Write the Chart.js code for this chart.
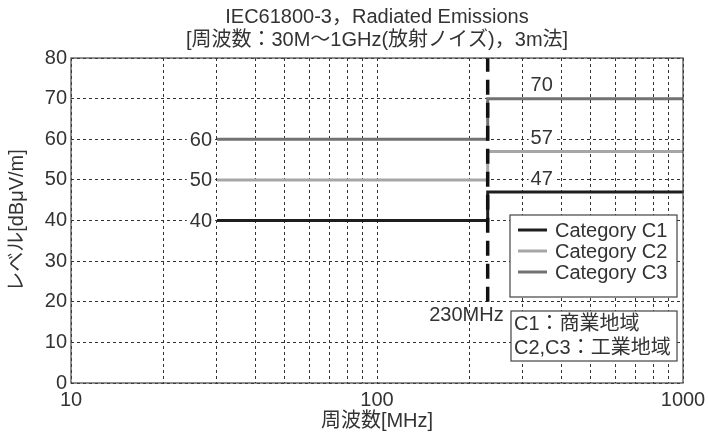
<!DOCTYPE html>
<html>
<head>
<meta charset="utf-8">
<script src="https://cdn.jsdelivr.net/npm/chart.js@4/dist/chart.umd.min.js"></script>
<style>
  body { margin: 0; background: #fff; }
  #wrap { width: 708px; height: 433px; }
</style>
</head>
<body>
<div id="wrap"><canvas id="emiChart" width="708" height="433"></canvas></div>
<script>
// 周波数の区切り [MHz] と各カテゴリの限度値 [dBμV/m]
const freqs = [30, 230, 1000];
const c1Levels = [40, 47, 47];
const c2Levels = [50, 57, 57];
const c3Levels = [60, 70, 70];
const seriesNames = ['Category C1', 'Category C2', 'Category C3'];

// 境界線 (230MHz)
const boundaryFreq = 230;
const boundaryRange = [20, 80];

// 軸の目盛
const xGridTicks = [10, 20, 30, 40, 50, 60, 70, 80, 90, 100, 200, 300, 400, 500, 600, 700, 800, 900, 1000];
const xTickLabels = [10, 100, 1000];
const yTicks = [0, 10, 20, 30, 40, 50, 60, 70, 80];

const noteLines = ['C1：商業地域', 'C2,C3：工業地域'];

const FONT = '"Liberation Sans", "Noto Sans CJK JP", sans-serif';
const FS = 20;
const TXT = '#333';
const colors = ['#1e1e1e', '#a6a6a6', '#727272'];

function toPts(levels) {
    return freqs.map((f, i) => ({ x: f, y: levels[i] }));
}

// 枠・値ラベル・凡例・注記を描くプラグイン
const decoPlugin = {
    id: 'deco',
    afterDatasetsDraw(chart) {
        const { ctx, chartArea: a, scales: { x, y } } = chart;
        ctx.save();
        ctx.strokeStyle = '#444';
        ctx.lineWidth = 1.2;
        ctx.strokeRect(a.left, a.top, a.right - a.left, a.bottom - a.top);

        ctx.font = FS + 'px ' + FONT;
        ctx.textBaseline = 'middle';
        const levelSets = [c1Levels, c2Levels, c3Levels];

        // 左側の値 (30〜230MHz)
        const xl = x.getPixelForValue(freqs[0]) - 5;
        levelSets.forEach(lv => {
            const t = String(lv[0]);
            const w = ctx.measureText(t).width;
            const yy = y.getPixelForValue(lv[0]);
            ctx.fillStyle = '#fff';
            ctx.fillRect(xl - w - 3, yy - 9, w + 5, 18);
            ctx.fillStyle = TXT;
            ctx.textAlign = 'right';
            ctx.fillText(t, xl, yy + 1);
        });

        // 右側の値 (230〜1000MHz)
        const xr = x.getPixelForValue(boundaryFreq) + 54;
        levelSets.forEach(lv => {
            const t = String(lv[1]);
            const w = ctx.measureText(t).width;
            const yy = y.getPixelForValue(lv[1]) - 14;
            ctx.fillStyle = '#fff';
            ctx.fillRect(xr - w / 2 - 2, yy - 8, w + 4, 16);
            ctx.fillStyle = TXT;
            ctx.textAlign = 'center';
            ctx.fillText(t, xr, yy + 1);
        });

        // 230MHz ラベル
        const bx = x.getPixelForValue(boundaryFreq);
        const by = y.getPixelForValue(boundaryRange[0]) + 14;
        ctx.textAlign = 'right';
        ctx.fillStyle = TXT;
        ctx.fillText(boundaryFreq + 'MHz', bx + 16, by);

        // 凡例
        const lx = 510, ly = 215, lw = 167, lh = 82;
        ctx.fillStyle = '#fff';
        ctx.fillRect(lx, ly, lw, lh);
        ctx.strokeStyle = '#444';
        ctx.lineWidth = 1.2;
        ctx.strokeRect(lx, ly, lw, lh);
        ctx.textAlign = 'left';
        seriesNames.forEach((name, i) => {
            const ry = ly + 15 + i * 21;
            ctx.strokeStyle = colors[i];
            ctx.lineWidth = 3;
            ctx.beginPath();
            ctx.moveTo(lx + 8, ry);
            ctx.lineTo(lx + 37, ry);
            ctx.stroke();
            ctx.fillStyle = TXT;
            ctx.fillText(name, lx + 45, ry + 1);
        });

        // 注記
        const nx = 511, ny = 311, nw = 166, nh = 50;
        ctx.fillStyle = '#fff';
        ctx.fillRect(nx, ny, nw, nh);
        ctx.strokeStyle = '#444';
        ctx.lineWidth = 1.2;
        ctx.strokeRect(nx, ny, nw, nh);
        ctx.fillStyle = TXT;
        noteLines.forEach((t, i) => {
            ctx.fillText(t, nx + 3, ny + 13 + i * 24);
        });
        ctx.restore();
    }
};

const ctx = document.getElementById('emiChart').getContext('2d');
new Chart(ctx, {
    type: 'line',
    data: {
        datasets: [
            {
                label: 'boundary',
                data: boundaryRange.map(v => ({ x: boundaryFreq, y: v })),
                borderColor: '#111',
                borderWidth: 3.5,
                borderDash: [15, 8],
                pointRadius: 0,
                order: 0
            },
            { label: seriesNames[0], data: toPts(c1Levels), borderColor: colors[0], borderWidth: 3, stepped: true, pointRadius: 0, order: 1 },
            { label: seriesNames[1], data: toPts(c2Levels), borderColor: colors[1], borderWidth: 3, stepped: true, pointRadius: 0, order: 1 },
            { label: seriesNames[2], data: toPts(c3Levels), borderColor: colors[2], borderWidth: 3, stepped: true, pointRadius: 0, order: 1 }
        ]
    },
    options: {
        responsive: false,
        animation: false,
        layout: { padding: { left: 0, right: 25, top: 0, bottom: 0 } },
        plugins: {
            legend: { display: false },
            tooltip: { enabled: false },
            title: {
                display: true,
                fullSize: false,
                text: ['IEC61800-3，Radiated Emissions', '[周波数：30M～1GHz(放射ノイズ)，3m法]'],
                color: TXT,
                font: { family: FONT, size: FS, weight: 'normal', lineHeight: 1.15 },
                padding: { top: 6, bottom: 6 }
            }
        },
        scales: {
            x: {
                type: 'logarithmic',
                min: 10,
                max: 1000,
                afterBuildTicks: s => { s.ticks = xGridTicks.map(v => ({ value: v })); },
                afterFit: s => { s.height = 50; s.paddingLeft = 0; s.paddingRight = 0; },
                ticks: {
                    autoSkip: false,
                    maxRotation: 0,
                    color: TXT,
                    padding: 5,
                    font: { family: FONT, size: FS },
                    callback: v => xTickLabels.includes(v) ? String(v) : ''
                },
                grid: { color: '#333', lineWidth: 1, drawTicks: false },
                border: { display: false, dash: [3, 3] },
                title: {
                    display: true,
                    text: '周波数[MHz]',
                    color: TXT,
                    font: { family: FONT, size: FS },
                    padding: { top: 0, bottom: 0 }
                }
            },
            y: {
                min: 0,
                max: 80,
                afterBuildTicks: s => { s.ticks = yTicks.map(v => ({ value: v })); },
                afterFit: s => { s.width = 71; },
                ticks: {
                    color: TXT,
                    padding: 4,
                    font: { family: FONT, size: FS }
                },
                grid: { color: '#333', lineWidth: 1, drawTicks: false },
                border: { display: false, dash: [3, 3] },
                title: {
                    display: true,
                    text: 'レベル[dBμV/m]',
                    color: TXT,
                    font: { family: FONT, size: FS },
                    padding: { top: 5, bottom: 0 }
                }
            }
        }
    },
    plugins: [decoPlugin]
});
</script>
</body>
</html>
